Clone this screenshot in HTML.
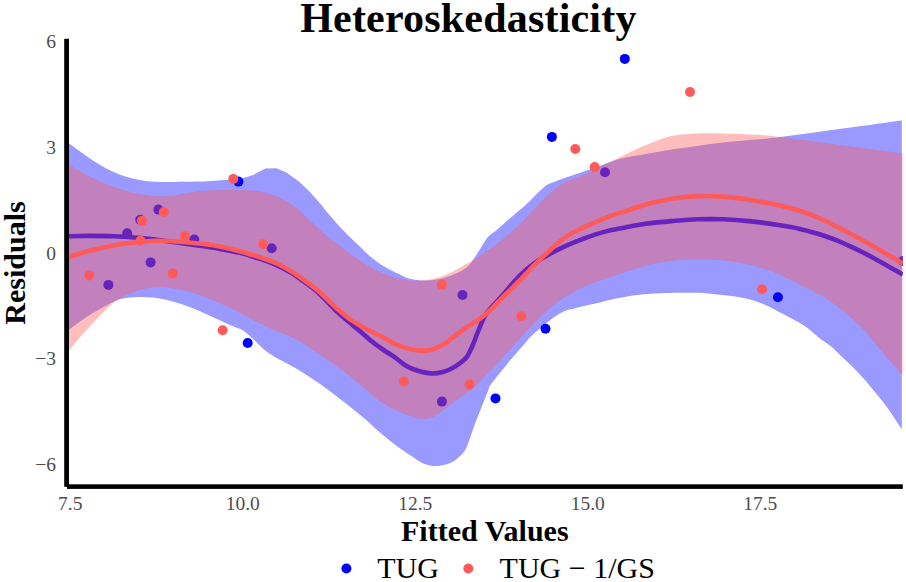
<!DOCTYPE html>
<html><head><meta charset="utf-8"><style>
html,body{margin:0;padding:0;background:#fff;width:906px;height:582px;overflow:hidden}
svg{display:block}
text{font-family:"Liberation Serif",serif}
.tk{font-size:19.5px;fill:#4D4D4D}
.ttl{font-size:42px;font-weight:bold;fill:#000}
.axt{font-size:30px;font-weight:bold;fill:#000}
.lg{font-size:30px;fill:#000}
</style></head><body>
<svg width="906" height="582" viewBox="0 0 906 582">
<defs><clipPath id="pc"><rect x="66.6" y="38.8" width="836.2" height="447.8"/></clipPath></defs>
<g clip-path="url(#pc)">
<path d="M66.6,142.2 C67.0,142.4 67.1,142.1 69.1,143.5 C71.1,144.9 74.9,147.8 78.8,150.6 C82.7,153.4 87.9,157.3 92.5,160.3 C97.1,163.3 101.7,166.1 106.3,168.5 C110.9,170.9 115.4,173.0 120.0,174.7 C124.6,176.4 129.2,177.7 133.8,178.8 C138.4,179.9 142.9,180.7 147.5,181.2 C152.1,181.7 156.7,181.9 161.3,182.0 C165.9,182.1 169.0,182.1 175.0,182.0 C181.0,181.9 191.4,181.8 197.5,181.6 C203.6,181.4 206.7,181.2 211.3,180.9 C215.9,180.6 220.4,180.4 225.0,180.0 C229.6,179.6 235.8,178.8 238.8,178.5 L243.2,178.0 L253.2,175.0 L265.3,168.6 L276.4,168.3 L286.3,172.5 L298.4,181.0 L309.5,191.6 L320.5,204.0 C323.3,207.3 323.8,208.2 326.5,211.5 C329.2,214.8 333.4,219.8 336.9,223.6 C340.3,227.4 343.2,230.6 347.2,234.5 C351.1,238.4 356.7,243.4 360.6,247.2 C364.6,250.9 367.5,254.1 370.9,257.0 C374.3,259.9 377.8,262.5 381.2,264.7 C384.6,266.9 388.4,268.8 391.5,270.4 C394.6,272.0 397.4,273.2 400.0,274.5 C402.6,275.8 404.2,277.1 407.3,278.0 C410.4,278.9 414.4,279.8 418.3,280.2 C422.2,280.6 427.0,280.5 431.0,280.2 C435.0,279.9 438.4,279.4 442.1,278.5 C445.8,277.6 449.4,276.2 453.1,274.7 C456.8,273.1 461.1,271.4 464.2,269.2 C467.3,267.0 469.1,264.9 471.9,261.4 C474.6,257.9 477.9,252.3 480.7,248.2 C483.4,244.1 485.6,239.7 488.4,236.6 C491.2,233.5 493.7,232.5 497.3,229.4 C500.9,226.3 505.3,222.3 510.0,218.2 C514.7,214.1 519.8,210.2 525.5,205.0 C531.2,199.8 538.9,191.2 544.0,187.2 C549.1,183.2 551.8,182.9 556.4,181.0 C561.0,179.1 566.7,177.4 571.9,175.6 C577.1,173.8 582.2,172.0 587.4,170.2 C592.6,168.4 597.5,166.7 602.9,164.8 C608.3,162.9 612.9,160.6 620.0,158.8 C627.1,157.0 637.2,155.7 645.8,154.1 C654.4,152.5 662.9,150.9 671.5,149.5 C680.1,148.1 688.7,147.1 697.3,145.9 C705.9,144.7 714.5,143.5 723.1,142.5 C731.7,141.5 739.4,140.9 748.9,140.0 C758.4,139.1 754.8,140.3 780.3,137.1 C805.8,133.9 881.5,123.3 901.8,120.6 L901.8,429.3 C899.4,425.7 892.7,415.0 887.5,407.9 C882.3,400.8 876.1,393.1 870.4,386.4 C864.7,379.7 858.0,372.5 853.2,367.5 C848.4,362.5 845.2,360.0 841.5,356.5 C837.8,353.0 834.6,349.4 831.2,346.5 C827.8,343.6 824.3,341.9 820.9,339.2 C817.5,336.5 814.0,333.1 810.6,330.4 C807.2,327.7 803.7,325.3 800.3,323.2 C796.9,321.1 796.5,321.0 790.0,317.7 C783.5,314.4 770.0,306.7 761.4,303.3 C752.8,299.9 745.1,298.5 738.2,297.1 C731.3,295.7 726.8,295.5 720.0,294.8 C713.2,294.1 704.9,293.1 697.6,292.8 C690.3,292.5 683.3,292.7 676.1,292.8 C668.9,292.9 661.8,293.0 654.6,293.5 C647.4,294.0 640.2,294.6 633.0,295.6 C625.8,296.6 617.0,298.4 611.5,299.5 C606.0,300.6 605.9,301.1 600.0,302.5 C594.1,303.9 582.8,306.1 575.9,308.0 C569.0,309.9 565.9,309.7 558.8,314.1 C551.6,318.5 538.7,329.5 533.0,334.5 C527.3,339.5 528.7,339.2 524.4,344.1 C520.1,349.0 512.9,357.0 507.2,363.9 C501.5,370.8 493.1,381.2 490.0,385.6 C486.9,390.0 490.7,384.1 488.4,390.0 L476.0,421.0 L466.7,447.3 C463.3,453.8 459.8,456.7 455.9,459.7 C452.0,462.7 447.4,464.1 443.5,465.1 C439.6,466.1 436.2,466.3 432.6,465.9 C429.0,465.5 425.4,464.5 421.8,462.8 C418.2,461.1 415.4,458.8 411.0,455.8 C406.6,452.8 400.7,448.9 395.5,445.0 C390.3,441.1 385.2,436.9 380.0,432.5 C374.8,428.1 370.7,423.7 364.4,418.4 C358.1,413.1 349.6,406.3 342.1,400.5 C334.7,394.7 327.1,388.9 319.7,383.7 C312.2,378.5 304.8,373.7 297.4,369.2 C289.9,364.7 280.5,360.1 275.0,356.9 C269.5,353.6 268.0,352.6 264.4,349.7 C260.8,346.8 257.2,342.8 253.6,339.6 C250.0,336.4 246.4,332.6 242.8,330.3 C239.2,328.0 236.3,327.6 231.9,325.7 C227.5,323.8 221.6,321.0 216.4,318.7 C211.2,316.4 206.2,313.9 201.0,311.7 C195.8,309.5 191.1,307.4 185.5,305.5 C179.9,303.6 172.8,301.4 167.3,300.1 C161.8,298.8 157.6,298.1 152.7,297.6 C147.8,297.1 142.9,296.8 138.0,296.9 C133.1,297.0 126.8,297.9 123.4,298.4 C120.0,298.9 120.0,299.1 117.6,300.1 C115.2,301.1 112.7,302.2 108.8,304.2 C104.9,306.2 99.1,309.4 94.2,312.3 C89.3,315.2 83.7,318.9 79.6,321.7 C75.5,324.5 71.6,327.7 69.4,329.3 C67.2,330.9 67.1,331.1 66.6,331.5 Z" fill="#0000FF" fill-opacity="0.4"/>
<path d="M66.6,236.2 C70.4,236.1 81.5,235.9 89.3,235.9 C97.1,235.9 105.5,235.9 113.6,236.2 C121.7,236.5 129.8,237.1 137.9,237.8 C146.0,238.5 152.7,239.3 162.1,240.5 C171.5,241.7 184.9,243.6 194.3,245.0 C203.7,246.4 210.5,247.3 218.6,248.7 C226.7,250.1 237.7,252.3 242.9,253.5 C248.1,254.7 247.1,254.9 250.0,255.8 C252.9,256.7 256.9,257.8 260.3,258.9 C263.7,260.0 267.2,261.2 270.6,262.6 C274.0,264.0 277.5,265.4 280.9,267.1 C284.3,268.8 287.8,270.8 291.2,272.9 C294.6,275.0 298.1,277.5 301.5,279.9 C304.9,282.3 308.8,285.1 311.9,287.5 C315.0,289.9 315.8,290.3 320.0,294.3 C324.2,298.3 331.5,306.4 336.9,311.5 C342.3,316.6 346.9,320.0 352.4,324.7 C357.9,329.4 365.1,335.8 370.0,339.9 C374.9,343.9 378.1,346.2 382.1,349.0 C386.2,351.8 390.2,354.1 394.3,356.9 C398.4,359.7 402.3,363.6 406.4,366.0 C410.4,368.4 414.6,369.8 418.6,371.0 C422.7,372.2 426.6,373.2 430.7,373.4 C434.8,373.6 438.8,373.1 442.9,372.0 C446.9,370.9 451.2,368.9 455.0,366.6 C458.8,364.3 463.3,360.8 465.9,358.1 C468.4,355.4 469.1,352.8 470.3,350.5 C471.5,348.2 471.9,347.2 473.2,344.1 C474.5,341.0 475.8,336.9 477.9,331.9 C480.0,326.9 482.2,319.9 486.1,314.0 C490.0,308.1 495.6,303.2 501.2,296.8 C506.8,290.4 514.3,281.2 520.0,275.5 C525.7,269.8 530.3,266.1 535.5,262.4 C540.7,258.7 545.9,256.1 551.0,253.3 C556.1,250.5 561.2,247.9 566.4,245.6 C571.5,243.3 576.7,241.2 581.9,239.3 C587.1,237.4 592.2,235.5 597.4,233.9 C602.6,232.3 607.5,231.0 612.9,229.8 C618.3,228.6 624.5,227.6 630.0,226.6 C635.5,225.6 638.9,224.6 645.8,223.7 C652.7,222.8 662.9,221.8 671.5,221.1 C680.1,220.4 688.7,219.6 697.3,219.3 C705.9,219.0 714.5,219.0 723.1,219.3 C731.7,219.6 739.4,220.1 748.9,221.1 C758.4,222.1 771.7,224.0 780.0,225.3 C788.3,226.6 792.6,227.3 798.9,228.7 C805.2,230.1 811.5,231.9 817.8,233.8 C824.1,235.8 830.4,237.9 836.7,240.4 C843.0,242.9 849.3,245.9 855.6,248.9 C861.9,251.9 866.5,254.1 874.4,258.4 C882.3,262.7 898.1,271.9 902.8,274.6" fill="none" stroke="#0000FF" stroke-width="4.6" stroke-linejoin="round"/>
<circle cx="238.4" cy="181.6" r="5.0" fill="#0000FF"/>
<circle cx="247.7" cy="343.0" r="5.0" fill="#0000FF"/>
<circle cx="495.5" cy="398.4" r="5.0" fill="#0000FF"/>
<circle cx="545.5" cy="328.7" r="5.0" fill="#0000FF"/>
<circle cx="551.9" cy="136.9" r="5.0" fill="#0000FF"/>
<circle cx="624.8" cy="58.9" r="5.0" fill="#0000FF"/>
<circle cx="777.9" cy="297.3" r="5.0" fill="#0000FF"/>
<circle cx="108.4" cy="284.9" r="5.0" fill="#0000FF"/>
<circle cx="127.2" cy="233.2" r="5.0" fill="#0000FF"/>
<circle cx="140.2" cy="219.8" r="5.0" fill="#0000FF"/>
<circle cx="150.6" cy="262.4" r="5.0" fill="#0000FF"/>
<circle cx="158.4" cy="209.6" r="5.0" fill="#0000FF"/>
<circle cx="194.3" cy="239.6" r="5.0" fill="#0000FF"/>
<circle cx="271.7" cy="248.3" r="5.0" fill="#0000FF"/>
<circle cx="441.9" cy="401.6" r="5.0" fill="#0000FF"/>
<circle cx="462.5" cy="295.0" r="5.0" fill="#0000FF"/>
<circle cx="605.0" cy="172.2" r="5.0" fill="#0000FF"/>
<circle cx="903.0" cy="261.0" r="5.0" fill="#0000FF"/>
<path d="M66.6,162.8 C67.0,163.1 67.1,163.1 69.1,164.4 C71.1,165.7 74.9,168.3 78.8,170.6 C82.7,172.9 87.9,175.8 92.5,178.1 C97.1,180.4 101.7,182.5 106.3,184.3 C110.9,186.1 115.4,187.7 120.0,189.1 C124.6,190.5 129.2,192.0 133.8,193.0 C138.4,194.0 142.9,194.8 147.5,195.3 C152.1,195.9 156.7,196.2 161.3,196.3 C165.9,196.4 171.2,196.1 175.0,195.6 C178.8,195.1 180.1,194.2 183.8,193.5 C187.6,192.8 192.9,192.0 197.5,191.5 C202.1,191.0 206.7,190.6 211.3,190.3 C215.9,190.0 220.4,189.9 225.0,189.9 C229.6,189.9 234.2,190.1 238.8,190.2 C243.4,190.3 248.2,190.2 252.5,190.6 C256.9,191.0 261.0,191.6 264.9,192.6 C268.8,193.6 272.5,195.0 275.9,196.3 C279.3,197.6 282.0,198.6 285.3,200.4 C288.6,202.2 292.2,204.6 295.6,207.3 C299.0,210.0 302.5,213.5 305.9,216.7 C309.3,219.8 312.8,223.0 316.2,226.2 C319.6,229.3 322.5,232.3 326.5,235.6 C330.5,238.9 336.0,243.0 340.0,246.1 C344.0,249.2 346.9,251.4 350.3,253.9 C353.7,256.4 357.2,258.9 360.6,261.1 C364.0,263.3 367.5,265.4 370.9,267.3 C374.3,269.2 377.8,270.9 381.2,272.4 C384.6,273.9 388.4,275.5 391.5,276.5 C394.6,277.5 397.4,278.0 400.0,278.6 C402.6,279.2 404.2,279.8 407.3,280.2 C410.4,280.6 414.4,280.9 418.3,280.8 C422.2,280.7 427.0,280.1 431.0,279.3 C435.0,278.6 438.4,277.6 442.1,276.3 C445.8,275.0 449.4,273.2 453.1,271.4 C456.8,269.6 461.1,267.1 464.2,265.3 C467.3,263.6 468.2,263.2 471.9,260.9 C475.6,258.6 482.0,254.4 486.2,251.5 C490.4,248.6 493.6,246.0 497.3,243.2 C501.0,240.3 505.0,237.2 508.3,234.4 C511.6,231.7 514.2,229.4 517.1,226.7 C520.0,224.0 521.5,222.3 525.5,218.2 C529.5,214.1 535.9,206.9 541.0,201.9 C546.1,196.9 551.8,191.6 556.4,188.0 C561.0,184.4 564.1,182.8 568.8,180.6 C573.4,178.4 579.6,176.8 584.3,174.8 C588.9,172.8 590.8,171.5 596.7,168.6 C602.7,165.7 611.8,161.1 620.0,157.2 C628.2,153.3 637.2,148.6 645.8,145.1 C654.4,141.6 662.9,138.0 671.5,136.1 C680.1,134.2 688.7,133.9 697.3,133.5 C705.9,133.1 714.5,133.3 723.1,133.5 C731.7,133.7 739.4,133.9 748.9,134.5 C758.4,135.1 754.6,133.9 780.3,137.1 C805.9,140.3 882.4,150.8 902.8,153.6 L902.8,375.5 C900.5,372.9 895.3,367.2 889.3,360.2 C883.3,353.2 873.5,340.6 867.0,333.4 C860.5,326.2 856.3,322.5 850.0,317.0 C843.7,311.5 836.2,305.2 829.2,300.5 C822.2,295.8 815.1,292.5 807.7,288.6 C800.3,284.7 792.3,280.5 784.6,277.0 C776.9,273.5 769.1,270.2 761.4,267.8 C753.7,265.4 745.1,263.7 738.2,262.4 C731.3,261.1 726.8,260.6 720.0,260.0 C713.2,259.4 704.9,258.8 697.6,258.9 C690.3,258.9 683.3,259.5 676.1,260.3 C668.9,261.1 661.8,262.1 654.6,263.6 C647.4,265.1 640.2,267.2 633.0,269.4 C625.8,271.5 618.7,274.0 611.5,276.5 C604.3,279.0 595.9,282.0 590.0,284.4 C584.1,286.8 581.1,288.1 575.9,290.9 C570.7,293.7 564.5,297.0 558.8,301.2 C553.1,305.4 547.3,310.4 541.6,315.8 C535.9,321.2 530.1,327.7 524.4,333.8 C518.7,339.9 512.9,346.5 507.2,352.7 C501.5,358.9 495.9,364.9 490.0,371.0 C484.1,377.1 477.7,384.1 472.0,389.0 C466.3,393.9 460.8,397.0 456.0,400.5 C451.2,404.0 447.4,407.3 443.5,410.1 C439.6,412.9 436.2,415.6 432.6,417.1 C429.0,418.6 425.4,419.2 421.8,419.1 C418.2,419.0 415.4,417.8 411.0,416.3 C406.6,414.8 400.7,412.6 395.5,410.1 C390.3,407.6 385.2,405.0 380.0,401.3 C374.8,397.6 370.7,393.4 364.4,388.2 C358.1,383.0 349.6,375.9 342.1,370.3 C334.7,364.7 327.1,359.7 319.7,354.7 C312.2,349.7 304.5,344.1 297.4,340.1 C290.3,336.2 282.8,333.5 277.0,331.0 C271.2,328.5 267.8,327.2 262.9,324.9 C258.0,322.6 252.6,319.8 247.4,317.1 C242.2,314.4 237.1,311.2 231.9,308.6 C226.7,306.0 221.6,303.9 216.4,301.7 C211.2,299.5 206.2,297.3 201.0,295.5 C195.8,293.7 191.1,292.1 185.5,290.8 C179.9,289.5 172.3,288.4 167.3,287.8 C162.3,287.2 159.2,287.3 155.6,287.4 C151.9,287.5 149.6,287.6 145.4,288.6 C141.2,289.6 135.3,291.4 130.7,293.3 C126.1,295.2 121.2,297.8 117.6,300.1 C113.9,302.4 112.7,303.5 108.8,307.1 C104.9,310.7 99.1,316.6 94.2,321.7 C89.3,326.8 83.7,333.1 79.6,337.8 C75.5,342.6 71.6,347.6 69.4,350.2 C67.2,352.8 67.1,352.9 66.6,353.5 Z" fill="#FF5A5A" fill-opacity="0.4"/>
<path d="M66.6,257.7 C70.4,256.6 81.5,252.9 89.3,250.8 C97.1,248.8 105.5,246.9 113.6,245.4 C121.7,243.9 129.8,242.8 137.9,242.0 C146.0,241.2 152.7,240.5 162.1,240.7 C171.5,240.9 184.9,242.1 194.3,243.0 C203.7,243.9 210.5,244.7 218.6,246.2 C226.7,247.7 237.7,250.7 242.9,252.0 C248.1,253.3 247.1,253.3 250.0,254.2 C252.9,255.1 256.9,256.2 260.3,257.3 C263.7,258.4 267.2,259.6 270.6,261.0 C274.0,262.4 277.5,263.8 280.9,265.5 C284.3,267.2 287.8,269.2 291.2,271.3 C294.6,273.4 298.1,275.9 301.5,278.3 C304.9,280.7 308.8,283.5 311.9,285.9 C315.0,288.3 315.8,288.8 320.0,292.5 C324.2,296.2 331.5,303.7 336.9,308.4 C342.3,313.1 346.9,317.1 352.4,320.8 C357.9,324.5 365.1,328.1 370.0,330.8 C374.9,333.5 378.1,334.8 382.1,336.9 C386.2,339.0 390.2,341.7 394.3,343.6 C398.4,345.5 402.3,347.0 406.4,348.1 C410.4,349.2 414.6,350.2 418.6,350.5 C422.7,350.8 426.6,350.8 430.7,349.9 C434.8,348.9 438.8,347.2 442.9,344.8 C446.9,342.4 451.0,338.6 455.0,335.6 C459.0,332.7 462.9,329.9 467.1,327.1 C471.3,324.3 476.6,321.0 480.0,318.6 C483.4,316.2 484.0,315.9 487.5,312.6 C491.0,309.3 495.8,304.3 501.2,298.9 C506.6,293.5 514.3,285.9 520.0,280.1 C525.7,274.3 530.3,269.0 535.5,263.9 C540.7,258.8 545.9,253.8 551.0,249.2 C556.1,244.6 561.2,240.1 566.4,236.6 C571.5,233.1 576.7,230.9 581.9,228.3 C587.1,225.8 592.2,223.5 597.4,221.3 C602.6,219.1 607.5,217.0 612.9,215.1 C618.3,213.2 624.5,211.5 630.0,209.7 C635.5,207.9 638.9,206.2 645.8,204.4 C652.7,202.6 662.9,200.1 671.5,198.7 C680.1,197.3 688.7,196.4 697.3,196.1 C705.9,195.8 714.5,196.0 723.1,196.6 C731.7,197.2 739.4,198.2 748.9,199.7 C758.4,201.2 771.7,203.7 780.0,205.5 C788.3,207.3 792.6,208.5 798.9,210.5 C805.2,212.5 811.5,214.8 817.8,217.5 C824.1,220.2 830.4,223.3 836.7,226.5 C843.0,229.7 849.3,233.1 855.6,236.5 C861.9,239.9 866.5,242.5 874.4,247.0 C882.3,251.5 898.1,260.8 902.8,263.5" fill="none" stroke="#FF5A5A" stroke-width="4.6" stroke-linejoin="round"/>
<circle cx="89.2" cy="275.5" r="5.0" fill="#FF5A5A"/>
<circle cx="141.9" cy="220.8" r="5.0" fill="#FF5A5A"/>
<circle cx="140.5" cy="240.7" r="5.0" fill="#FF5A5A"/>
<circle cx="163.8" cy="212.0" r="5.0" fill="#FF5A5A"/>
<circle cx="172.7" cy="273.6" r="5.0" fill="#FF5A5A"/>
<circle cx="184.8" cy="236.2" r="5.0" fill="#FF5A5A"/>
<circle cx="222.6" cy="330.3" r="5.0" fill="#FF5A5A"/>
<circle cx="233.3" cy="178.9" r="5.0" fill="#FF5A5A"/>
<circle cx="263.2" cy="244.2" r="5.0" fill="#FF5A5A"/>
<circle cx="403.8" cy="381.5" r="5.0" fill="#FF5A5A"/>
<circle cx="441.9" cy="284.6" r="5.0" fill="#FF5A5A"/>
<circle cx="469.6" cy="384.5" r="5.0" fill="#FF5A5A"/>
<circle cx="521.2" cy="316.3" r="5.0" fill="#FF5A5A"/>
<circle cx="575.3" cy="149.0" r="5.0" fill="#FF5A5A"/>
<circle cx="594.7" cy="167.1" r="5.0" fill="#FF5A5A"/>
<circle cx="690.0" cy="92.0" r="5.0" fill="#FF5A5A"/>
<circle cx="762.0" cy="289.2" r="5.0" fill="#FF5A5A"/>
</g>
<rect x="64.2" y="38.8" width="4.8" height="448" fill="#000"/>
<rect x="67" y="484.3" width="835.8" height="4.6" fill="#000"/>
<text x="56" y="48.3" text-anchor="end" class="tk">6</text>
<text x="56" y="153.9" text-anchor="end" class="tk">3</text>
<text x="56" y="259.6" text-anchor="end" class="tk">0</text>
<text x="56" y="365.3" text-anchor="end" class="tk">−3</text>
<text x="56" y="471.0" text-anchor="end" class="tk">−6</text>
<text x="70.3" y="510.3" text-anchor="middle" class="tk">7.5</text>
<text x="242.8" y="510.3" text-anchor="middle" class="tk">10.0</text>
<text x="415.3" y="510.3" text-anchor="middle" class="tk">12.5</text>
<text x="587.8" y="510.3" text-anchor="middle" class="tk">15.0</text>
<text x="760.3" y="510.3" text-anchor="middle" class="tk">17.5</text>
<text x="300.2" y="32.2" textLength="336.2" lengthAdjust="spacing" class="ttl">Heteroskedasticity</text>
<text x="484.8" y="540.8" text-anchor="middle" class="axt">Fitted Values</text>
<text transform="translate(24.5,263) rotate(-90)" text-anchor="middle" class="axt">Residuals</text>
<circle cx="346.4" cy="568.5" r="5" fill="#0000FF"/>
<circle cx="468.3" cy="568.5" r="5" fill="#FF5A5A"/>
<text x="377.3" y="578.4" class="lg">TUG</text>
<text x="499.6" y="578.4" class="lg">TUG − 1/GS</text>
</svg>
</body></html>
